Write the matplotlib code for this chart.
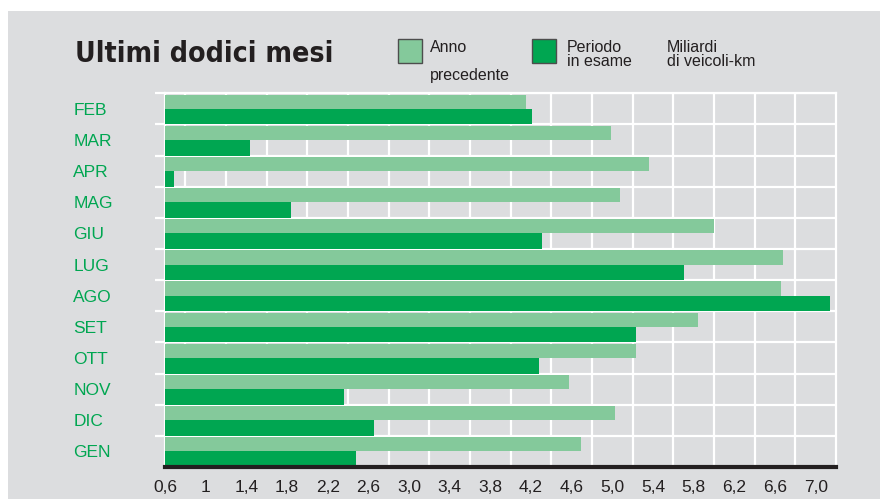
import matplotlib
matplotlib.use("Agg")
import matplotlib.pyplot as plt
import numpy as np
from matplotlib.patches import Rectangle
from matplotlib import font_manager
from matplotlib.font_manager import FontProperties

# data (miliardi di veicoli-km)
mesi = ["FEB", "MAR", "APR", "MAG", "GIU", "LUG", "AGO", "SET", "OTT", "NOV", "DIC", "GEN"]
anno_precedente = [4.15, 4.99, 5.36, 5.08, 6.00, 6.68, 6.66, 5.84, 5.23, 4.57, 5.03, 4.69]
periodo_in_esame = [4.21, 1.44, 0.69, 1.84, 4.31, 5.70, 7.14, 5.23, 4.28, 2.36, 2.66, 2.48]
tick_values = [0.6, 1.0, 1.4, 1.8, 2.2, 2.6, 3.0, 3.4, 3.8, 4.2, 4.6, 5.0, 5.4, 5.8, 6.2, 6.6, 7.0]
tick_labels = ["0,6", "1", "1,4", "1,8", "2,2", "2,6", "3,0", "3,4", "3,8", "4,2", "4,6",
               "5,0", "5,4", "5,8", "6,2", "6,6", "7,0"]

LIGHT = "#84c99b"
DARK = "#00a651"
BG = "#dcdddf"
TXT = "#231f20"

plt.rcParams["font.family"] = ["Liberation Sans", "DejaVu Sans"]


def pick_condensed_bold():
    # look for a narrow / condensed bold face for the title
    prefs = ["Liberation Sans Narrow", "DejaVu Sans", "Roboto Condensed", "Open Sans Condensed",
             "Noto Sans", "Roboto"]
    cands = []
    for f in font_manager.fontManager.ttflist:
        w = f.weight if isinstance(f.weight, int) else (700 if "bold" in str(f.weight).lower() else 400)
        narrow = ("Narrow" in f.name or "Condensed" in f.name or "Condensed" in f.fname
                  or str(f.stretch) in ("condensed", "semi-condensed", "extra-condensed"))
        if narrow and w >= 600 and "Oblique" not in f.fname and "Italic" not in f.fname:
            rank = next((i for i, p in enumerate(prefs) if f.name.startswith(p)), 99)
            cands.append((rank, f.fname))
    if cands:
        return FontProperties(fname=sorted(cands)[0][1])
    return FontProperties(family="Liberation Sans", weight="bold")


W, H = 880, 499
fig = plt.figure(figsize=(W / 100, H / 100), dpi=100, facecolor="white")

# grey panel behind everything
fig.patches.append(Rectangle((8 / W, 0), 1 - 8 / W, 1 - 11 / H, transform=fig.transFigure,
                             facecolor=BG, edgecolor="none", zorder=-10))

ax = fig.add_axes([165 / W, 1 - 467 / H, (836 - 165) / W, (467 - 93.3) / H])
ax.set_facecolor(BG)

y = np.arange(len(mesi))
ax.barh(y + 0.27, anno_precedente, height=0.46, color=LIGHT, zorder=3)
ax.barh(y + 0.75, periodo_in_esame, height=0.5, color=DARK, zorder=3)

ax.set_xlim(0.6, 7.2)
ax.set_ylim(12, 0)

# white grid
ax.set_xticks(np.arange(0.8, 7.2, 0.2), minor=True)
ax.grid(True, which="minor", axis="x", color="white", linewidth=1.6, zorder=1)
ax.set_yticks(np.arange(0, 12), minor=True)
ax.grid(True, which="minor", axis="y", color="white", linewidth=1.6, zorder=1)
ax.set_axisbelow(True)
ax.tick_params(axis="y", which="minor", length=7, width=1.6, color="white")
ax.tick_params(axis="x", which="minor", length=0)

for side in ["top", "left", "right"]:
    ax.spines[side].set_color("white")
    ax.spines[side].set_linewidth(1.6)
ax.spines["bottom"].set_color(TXT)
ax.spines["bottom"].set_linewidth(3)
ax.spines["bottom"].set_zorder(5)

ax.set_xticks(tick_values)
ax.set_xticklabels(tick_labels, fontsize=12.5, color=TXT)
ax.tick_params(axis="x", which="major", length=0, pad=9)

ax.set_yticks(y + 0.5)
ax.set_yticklabels(mesi, fontsize=12.5, color=DARK)
ax.tick_params(axis="y", which="major", length=0, pad=66)
for lbl in ax.get_yticklabels():
    lbl.set_horizontalalignment("left")

# title, sized so that it spans roughly the same width as the original
title_fp = pick_condensed_bold()
title = fig.text(75 / W, 1 - 62 / H, "Ultimi dodici mesi", fontproperties=title_fp,
                 fontsize=26, color=TXT, va="baseline", ha="left")
fig.canvas.draw()
tw = title.get_window_extent().width
if tw > 270:
    title.set_fontsize(26 * 258 / tw)

# legend
for x0, col in [(398, LIGHT), (532, DARK)]:
    fig.patches.append(Rectangle((x0 / W, 1 - 62.7 / H), 23.5 / W, 23.4 / H,
                                 transform=fig.transFigure, facecolor=col,
                                 edgecolor="#4d4d4d", linewidth=1.0))
fs = 11.5
fig.text(430 / W, 1 - 51.7 / H, "Anno", fontsize=fs, color=TXT, va="baseline")
fig.text(430 / W, 1 - 80 / H, "precedente", fontsize=fs, color=TXT, va="baseline")
fig.text(566.7 / W, 1 - 51.5 / H, "Periodo", fontsize=fs, color=TXT, va="baseline")
fig.text(566.7 / W, 1 - 66 / H, "in esame", fontsize=fs, color=TXT, va="baseline")
fig.text(667 / W, 1 - 51.5 / H, "Miliardi", fontsize=fs, color=TXT, va="baseline")
fig.text(667 / W, 1 - 66 / H, "di veicoli-km", fontsize=fs, color=TXT, va="baseline")

fig.savefig("out.png", dpi=100, facecolor="white")
